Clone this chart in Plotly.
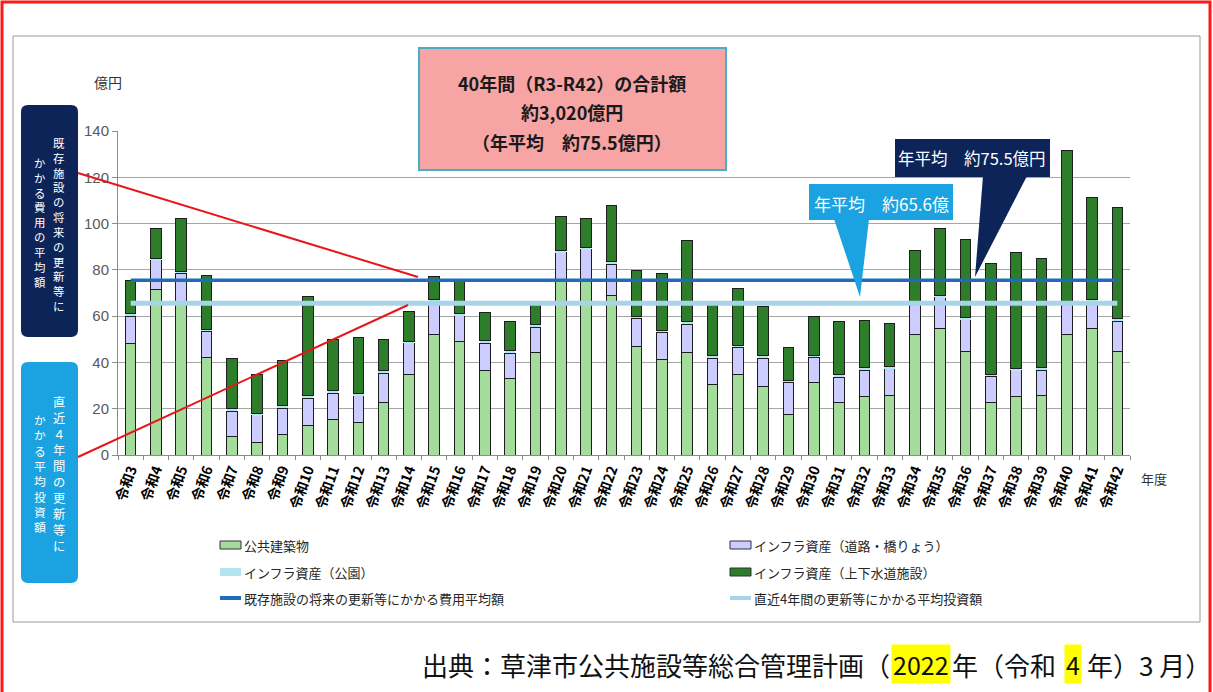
import plotly.graph_objects as go

# ---------------- data ----------------
categories = ["令和3", "令和4", "令和5", "令和6", "令和7", "令和8", "令和9", "令和10",
              "令和11", "令和12", "令和13", "令和14", "令和15", "令和16", "令和17", "令和18",
              "令和19", "令和20", "令和21", "令和22", "令和23", "令和24", "令和25", "令和26",
              "令和27", "令和28", "令和29", "令和30", "令和31", "令和32", "令和33", "令和34",
              "令和35", "令和36", "令和37", "令和38", "令和39", "令和40", "令和41", "令和42"]
public_buildings = [48.3, 71.3, 66.3, 42.2, 7.9, 5.5, 9.0, 12.7, 15.4, 14.1,
                    22.8, 34.9, 52.0, 49.0, 36.7, 33.1, 44.2, 75.0, 76.0, 69.0,
                    46.8, 41.3, 44.4, 30.5, 34.9, 29.5, 17.7, 31.4, 22.6, 25.2,
                    25.5, 52.2, 54.6, 44.9, 22.6, 25.2, 25.5, 52.2, 54.6, 44.9]
roads = [11.7, 12.7, 12.2, 11.2, 11.1, 11.5, 11.3, 11.8, 11.3, 11.6,
         12.6, 13.1, 14.3, 11.2, 11.6, 10.9, 11.1, 12.3, 12.7, 13.5,
         12.2, 11.7, 12.2, 11.4, 11.6, 12.4, 13.7, 10.8, 11.0, 11.5,
         11.7, 13.1, 13.3, 13.6, 11.4, 11.1, 11.2, 13.1, 11.7, 12.9]
parks = [1.0, 1.0, 1.0, 1.0, 1.0, 1.0, 1.0, 1.0, 1.0, 1.0,
         1.0, 1.0, 1.0, 1.0, 1.0, 1.0, 1.0, 1.0, 1.0, 1.0,
         1.0, 1.0, 1.0, 1.0, 1.0, 1.0, 1.0, 1.0, 1.0, 1.0,
         1.0, 1.0, 1.0, 1.0, 1.0, 1.0, 1.0, 1.0, 1.0, 1.0]
water = [14.6, 13.0, 22.5, 23.0, 21.8, 16.6, 19.7, 43.2, 22.3, 23.9,
         13.3, 12.8, 9.7, 14.4, 12.1, 12.5, 8.7, 14.7, 12.3, 24.1,
         19.8, 24.4, 35.3, 23.4, 24.5, 21.2, 14.1, 16.8, 23.2, 20.5,
         18.7, 21.9, 28.9, 33.8, 47.8, 50.3, 47.3, 65.2, 44.1, 48.1]
avg_future = 75.5
avg_recent = 65.6
y_ticks = [0, 20, 40, 60, 80, 100, 120, 140]

series_names = ["公共建築物", "インフラ資産（道路・橋りょう）", "インフラ資産（公園）",
                "インフラ資産（上下水道施設）"]
line_names = ["既存施設の将来の更新等にかかる費用平均額", "直近4年間の更新等にかかる平均投資額"]

# ---------------- layout geometry ----------------
W, H = 1213, 692
PL, PR, PT, PB = 118, 1130, 131, 455
FONT = "Noto Sans CJK JP"

C_PUB = "#a4dc9c"
C_ROAD = "#ccccff"
C_PARK = "#b4e4f0"
C_WATER = "#2e7d2a"
C_LINE1 = "#1f6cb8"
C_LINE2 = "#a8d4ea"
C_NAVY = "#0c2458"
C_SKY = "#1aa3e0"


def px(x):
    return (x - PL) / (PR - PL)


def py(y):
    return (PB - y) / (PB - PT)


fig = go.Figure()
seg_colors = [C_PUB, C_ROAD, C_PARK, C_WATER]
for name, vals, col in zip(series_names, [public_buildings, roads, parks, water], seg_colors):
    lw = 0 if col == C_PARK else 1
    fig.add_trace(go.Bar(x=categories, y=vals, name=name, showlegend=False,
                         marker=dict(color=col, line=dict(color="#1e1e1e", width=lw))))

fig.add_trace(go.Scatter(x=categories, y=[avg_recent] * len(categories), mode="lines",
                         line=dict(color=C_LINE2, width=5), showlegend=False, name=line_names[1]))
fig.add_trace(go.Scatter(x=categories, y=[avg_future] * len(categories), mode="lines",
                         line=dict(color=C_LINE1, width=3.5), showlegend=False, name=line_names[0]))

shapes = []
annotations = []

# outer red frame and grey chart frame
shapes.append(dict(type="rect", xref="paper", yref="paper", x0=px(2), x1=px(1210), y0=py(2), y1=py(720),
                   line=dict(color="#ff1a1a", width=3), layer="below"))
shapes.append(dict(type="rect", xref="paper", yref="paper", x0=px(13), x1=px(1200), y0=py(36), y1=py(622),
                   line=dict(color="#9a9a9a", width=1), layer="below"))


def rounded(x0, y0, x1, y1, r):
    rx = r / (PR - PL)
    ry = r / (PB - PT)
    a, b, c, d = px(x0), px(x1), py(y0), py(y1)  # c top, d bottom
    return (f"M {a+rx},{c} L {b-rx},{c} Q {b},{c} {b},{c-ry} L {b},{d+ry} Q {b},{d} {b-rx},{d} "
            f"L {a+rx},{d} Q {a},{d} {a},{d+ry} L {a},{c-ry} Q {a},{c} {a+rx},{c} Z")


# left boxes
shapes.append(dict(type="path", xref="paper", yref="paper", path=rounded(21, 105, 78, 337, 7),
                   fillcolor=C_NAVY, line=dict(width=0)))
shapes.append(dict(type="path", xref="paper", yref="paper", path=rounded(21, 362, 78, 583, 7),
                   fillcolor=C_SKY, line=dict(width=0)))


def vertical_text(text, xc, yc, size):
    annotations.append(dict(xref="paper", yref="paper", x=px(xc), y=py(yc),
                            text="<br>".join(list(text)), showarrow=False,
                            xanchor="center", yanchor="middle", align="center",
                            font=dict(family=FONT, size=size, color="white")))


vertical_text("既存施設の将来の更新等に", 59, 224, 11.4)
vertical_text("かかる費用の平均額", 40, 222, 11.4)
vertical_text("直近４年間の更新等に", 59, 474, 12.3)
vertical_text("かかる平均投資額", 40, 473, 11.8)

# red connector lines
shapes.append(dict(type="line", xref="paper", yref="paper", x0=px(78), y0=py(173), x1=px(418), y1=py(277),
                   line=dict(color="#e8161b", width=2)))
shapes.append(dict(type="line", xref="paper", yref="paper", x0=px(78), y0=py(457), x1=px(408), y1=py(305),
                   line=dict(color="#e8161b", width=2)))

# pink total box
shapes.append(dict(type="rect", xref="paper", yref="paper", x0=px(419), x1=px(726), y0=py(48), y1=py(170),
                   fillcolor="#f6a4a4", line=dict(color="#4bacc6", width=2)))
for txt, yy in [("40年間（R3-R42）の合計額", 83), ("約3,020億円", 112), ("（年平均　約75.5億円）", 142)]:
    annotations.append(dict(xref="paper", yref="paper", x=px(572), y=py(yy), text=f"<b>{txt}</b>",
                            showarrow=False, xanchor="center", yanchor="middle",
                            font=dict(family=FONT, size=18, color="#1a1a1a")))

# light blue callout (65.6)
shapes.append(dict(type="path", xref="paper", yref="paper",
                   path=f"M {px(834)},{py(219)} L {px(869)},{py(219)} L {px(860)},{py(297)} Z",
                   fillcolor=C_SKY, line=dict(width=0)))
shapes.append(dict(type="rect", xref="paper", yref="paper", x0=px(809), x1=px(953), y0=py(184), y1=py(220),
                   fillcolor=C_SKY, line=dict(width=0)))
annotations.append(dict(xref="paper", yref="paper", x=px(881), y=py(203), text="年平均　約65.6億",
                        showarrow=False, xanchor="center", yanchor="middle",
                        font=dict(family=FONT, size=17, color="white")))

# navy callout (75.5)
shapes.append(dict(type="path", xref="paper", yref="paper",
                   path=f"M {px(983)},{py(176)} L {px(1027)},{py(176)} L {px(975)},{py(277)} Z",
                   fillcolor=C_NAVY, line=dict(width=0)))
shapes.append(dict(type="rect", xref="paper", yref="paper", x0=px(895), x1=px(1050), y0=py(139), y1=py(177),
                   fillcolor=C_NAVY, line=dict(width=0)))
annotations.append(dict(xref="paper", yref="paper", x=px(972), y=py(158), text="年平均　約75.5億円",
                        showarrow=False, xanchor="center", yanchor="middle",
                        font=dict(family=FONT, size=16.5, color="white")))

# axis titles
annotations.append(dict(xref="paper", yref="paper", x=px(92), y=py(82), text="億円", showarrow=False,
                        xanchor="left", yanchor="middle", font=dict(family=FONT, size=14, color="#333333")))
annotations.append(dict(xref="paper", yref="paper", x=px(1139), y=py(478), text="年度", showarrow=False,
                        xanchor="left", yanchor="middle", font=dict(family=FONT, size=13, color="#333333")))

# legend (manual)
leg_items = [
    (series_names[0], "bar", C_PUB, 220, 545),
    (series_names[1], "bar", C_ROAD, 730, 545),
    (series_names[2], "park", C_PARK, 220, 572),
    (series_names[3], "bar", C_WATER, 730, 572),
    (line_names[0], "line", C_LINE1, 220, 598),
    (line_names[1], "line", C_LINE2, 730, 598),
]
for name, kind, col, lx, ly in leg_items:
    if kind == "bar":
        shapes.append(dict(type="rect", xref="paper", yref="paper", x0=px(lx), x1=px(lx + 21),
                           y0=py(ly - 4), y1=py(ly + 4), fillcolor=col, line=dict(color="#333333", width=1)))
    elif kind == "park":
        shapes.append(dict(type="rect", xref="paper", yref="paper", x0=px(lx), x1=px(lx + 21),
                           y0=py(ly - 4), y1=py(ly + 4), fillcolor=col, line=dict(width=0)))
    else:
        shapes.append(dict(type="line", xref="paper", yref="paper", x0=px(lx), x1=px(lx + 21),
                           y0=py(ly), y1=py(ly), line=dict(color=col, width=4)))
    annotations.append(dict(xref="paper", yref="paper", x=px(lx + 22), y=py(ly), text=name, showarrow=False,
                            xanchor="left", yanchor="middle", font=dict(family=FONT, size=13, color="#262626")))

# source line
src_parts = [("出典：草津市公共施設等総合管理計画（", 892, None, "right"),
             ("2022", 891, "#ffff00", "left"),
             ("年（令和", 950, None, "left"),
             ("4", 1064, "#ffff00", "left"),
             ("年）3 月）", 1085, None, "left")]
for txt, x0, bg, anc in src_parts:
    a = dict(xref="paper", yref="paper", x=px(x0), y=py(664), text=txt, showarrow=False,
             xanchor=anc, yanchor="middle", font=dict(family=FONT, size=26, color="#111111"),
             borderpad=1)
    if bg:
        a["bgcolor"] = bg
        a["font"] = dict(family=FONT, size=25, color="#111111")
    annotations.append(a)

fig.update_layout(
    width=W, height=H,
    margin=dict(l=PL, r=W - PR, t=PT, b=H - PB, pad=0),
    paper_bgcolor="white", plot_bgcolor="white",
    barmode="stack", bargap=0.58,
    showlegend=False,
    shapes=shapes, annotations=annotations,
    font=dict(family=FONT),
    xaxis=dict(type="category", range=[-0.5, len(categories) - 0.5], tickangle=-70,
               tickfont=dict(family=FONT, size=14, color="#000000", weight="bold"),
               showline=True, linecolor="#8c8c8c", linewidth=1, ticks="outside", ticklen=4,
               tickcolor="#8c8c8c", tickson="boundaries", showgrid=False),
    yaxis=dict(range=[0, 140], tickvals=y_ticks, showgrid=True, gridcolor="#a6a6a6", gridwidth=1,
               showline=True, linecolor="#8c8c8c", linewidth=1, ticks="outside", ticklen=5,
               tickcolor="#8c8c8c", zeroline=False,
               tickfont=dict(family="Liberation Sans", size=15, color="#595959")),
)

fig.write_html("out.html", config={"displayModeBar": False},
               post_script="document.body.style.margin='0';document.body.style.padding='0';")
